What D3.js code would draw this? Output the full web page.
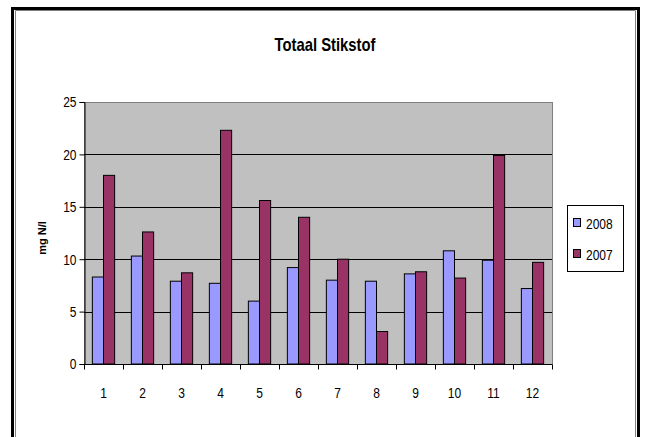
<!DOCTYPE html>
<html>
<head>
<meta charset="utf-8">
<script src="https://cdn.jsdelivr.net/npm/d3@7"></script>
<style>
  html, body { margin: 0; padding: 0; background: #fff; }
  svg { display: block; }
  text { font-family: "Liberation Sans Narrow", "Arial Narrow", "Liberation Sans", Arial, sans-serif; fill: #000; }
</style>
</head>
<body>
<svg id="chart" width="645" height="437"></svg>
<script>
// Monthly total nitrogen (mg N/l), two years side by side
const months = ["1", "2", "3", "4", "5", "6", "7", "8", "9", "10", "11", "12"];
const seriesNames = ["2008", "2007"];
const values2008 = [8.3, 10.3, 7.9, 7.7, 6.0, 9.2, 8.0, 7.9, 8.6, 10.8, 9.9, 7.2];
const values2007 = [18.0, 12.6, 8.7, 22.3, 15.6, 14.0, 10.0, 3.1, 8.8, 8.2, 19.9, 9.7];
const yTicks = [0, 5, 10, 15, 20, 25];
const colors = ["#9999FF", "#993366"];

const svg = d3.select("#chart");

// Squeeze a text element horizontally to imitate a condensed face
function condense(sel, factor) {
  sel.each(function () {
    const len = this.getComputedTextLength();
    d3.select(this).attr("textLength", len * factor).attr("lengthAdjust", "spacingAndGlyphs");
  });
}

// Outer frame: heavy black line with a thin grey line inside
svg.append("path")
  .attr("d", "M12.5,437 V8.5 H638.5 V437")
  .attr("fill", "none").attr("stroke", "#000").attr("stroke-width", 3);
svg.append("path")
  .attr("d", "M15.5,437 V10.5 H635.5 V437")
  .attr("fill", "none").attr("stroke", "#808080").attr("stroke-width", 1);

// Title
svg.append("text")
  .attr("x", 325).attr("y", 51)
  .attr("text-anchor", "middle")
  .attr("font-size", 19).attr("font-weight", "bold")
  .text("Totaal Stikstof")
  .call(condense, 0.78);

const plot = { left: 84, right: 552, top: 102, bottom: 364 };

const x0 = d3.scaleBand().domain(months).range([plot.left, plot.right]).paddingInner(0).paddingOuter(0);
const x1 = d3.scaleBand().domain(seriesNames).range([0, x0.bandwidth()]).paddingInner(0).paddingOuter(0.75);
const y = d3.scaleLinear().domain([0, 25]).range([plot.bottom, plot.top]);

// Plot area background
svg.append("rect")
  .attr("x", plot.left).attr("y", plot.top)
  .attr("width", plot.right - plot.left).attr("height", plot.bottom - plot.top)
  .attr("fill", "#C0C0C0").attr("stroke", "#808080").attr("stroke-width", 1)
  .attr("shape-rendering", "crispEdges");

// Horizontal gridlines
svg.append("g").selectAll("line")
  .data(yTicks.filter(d => d > 0 && d < 25))
  .join("line")
  .attr("x1", plot.left).attr("x2", plot.right)
  .attr("y1", d => Math.round(y(d)) + 0.5).attr("y2", d => Math.round(y(d)) + 0.5)
  .attr("stroke", "#000").attr("stroke-width", 1);

// Bars
const rows = months.map((m, i) => ({ month: m, vals: [values2008[i], values2007[i]] }));
svg.append("g").selectAll("g")
  .data(rows)
  .join("g")
  .attr("transform", d => `translate(${x0(d.month)},0)`)
  .selectAll("rect")
  .data(d => d.vals.map((v, j) => ({ key: seriesNames[j], v, c: colors[j] })))
  .join("rect")
  .attr("x", d => x1(d.key))
  .attr("y", d => y(d.v))
  .attr("width", x1.bandwidth())
  .attr("height", d => y(0) - y(d.v))
  .attr("fill", d => d.c)
  .attr("stroke", "#000").attr("stroke-width", 1);

// Y axis
const yAxis = d3.axisLeft(y).tickValues(yTicks).tickSize(5).tickPadding(3).tickFormat(d3.format("d"));
const gy = svg.append("g").attr("transform", `translate(${plot.left + 0.5},0)`).call(yAxis);
gy.selectAll("text").attr("font-size", 15).call(condense, 0.8);
gy.selectAll("line, path").attr("stroke", "#000");

// X axis with ticks at category boundaries
const gx = svg.append("g").attr("transform", `translate(0,${plot.bottom + 0.5})`);
gx.append("line").attr("x1", plot.left).attr("x2", plot.right).attr("stroke", "#000");
const bounds = months.map(m => x0(m)).concat([plot.right]);
gx.selectAll("line.tick").data(bounds).join("line").attr("class", "tick")
  .attr("x1", d => Math.round(d) + 0.5).attr("x2", d => Math.round(d) + 0.5)
  .attr("y1", 0).attr("y2", 5).attr("stroke", "#000");
gx.selectAll("text").data(months).join("text")
  .attr("x", d => x0(d) + x0.bandwidth() / 2)
  .attr("y", 33)
  .attr("text-anchor", "middle")
  .attr("font-size", 15)
  .text(d => d)
  .call(condense, 0.8);

// Y axis title
svg.append("text")
  .attr("transform", "translate(46,238) rotate(-90)")
  .attr("text-anchor", "middle")
  .attr("font-family", "'Liberation Sans', Arial, sans-serif")
  .attr("font-size", 11).attr("font-weight", "bold")
  .text("mg N/l");

// Legend
const lg = svg.append("g");
lg.append("rect").attr("x", 567.5).attr("y", 205.5).attr("width", 56).attr("height", 66)
  .attr("fill", "#fff").attr("stroke", "#000").attr("stroke-width", 1);
seriesNames.forEach((s, i) => {
  const cy = 223 + i * 31;
  lg.append("rect").attr("x", 573.5).attr("y", cy - 4.5).attr("width", 7).attr("height", 8)
    .attr("fill", colors[i]).attr("stroke", "#000").attr("stroke-width", 1);
  lg.append("text").attr("x", 586).attr("y", cy + 5.5).attr("font-size", 15).text(s)
    .call(condense, 0.8);
});
</script>
</body>
</html>
